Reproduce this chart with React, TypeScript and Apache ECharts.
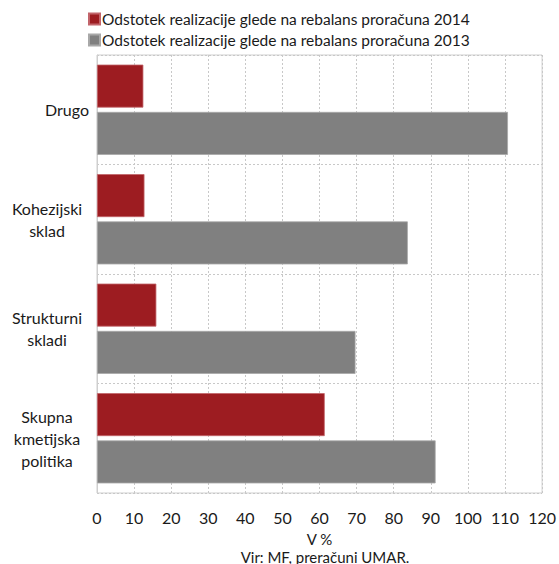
import React, { useEffect, useRef } from "react";
import * as echarts from "echarts";

const categories = ["Drugo", "Kohezijski\nsklad", "Strukturni\nskladi", "Skupna\nkmetijska\npolitika"];
const series2014 = [12.5, 12.8, 16.0, 61.4];
const series2013 = [110.8, 83.8, 69.7, 91.3];
const name2014 = "Odstotek realizacije glede na rebalans proračuna 2014";
const name2013 = "Odstotek realizacije glede na rebalans proračuna 2013";
const xAxisName = "V %";
const sourceText = "Vir: MF, preračuni UMAR.";

const FONT = "Lato";

export default function App() {
  const ref = useRef<HTMLDivElement>(null);
  useEffect(() => {
    if (!ref.current) return;
    const chart = echarts.init(ref.current, undefined, { renderer: "svg" });
    const labelStyle = { fontFamily: FONT, fontSize: 16, color: "#1a1a1a", lineHeight: 22, align: "center" };
    chart.setOption({
      animation: false,
      textStyle: { fontFamily: FONT },
      legend: {
        orient: "vertical",
        left: 83,
        top: 6,
        itemWidth: 11,
        itemHeight: 11,
        itemGap: 5,
        icon: "rect",
        textStyle: { fontFamily: FONT, fontSize: 15.5, color: "#1a1a1a", padding: [0, 0, 0, -3] },
        data: [name2014, name2013],
      },
      title: {
        text: sourceText,
        left: 320,
        textAlign: "center",
        top: 544,
        textStyle: { fontFamily: FONT, fontSize: 15, fontWeight: "normal", color: "#1a1a1a" },
      },
      grid: {
        left: 97,
        top: 55,
        width: 446,
        height: 438,
        show: true,
        borderColor: "#cfcfcf",
        borderWidth: 1,
      },
      xAxis: {
        type: "value",
        min: 0,
        max: 120,
        interval: 10,
        name: xAxisName,
        nameLocation: "middle",
        nameGap: 38,
        nameTextStyle: { fontFamily: FONT, fontSize: 15, color: "#1a1a1a" },
        axisLine: { show: false },
        axisTick: { show: false },
        axisLabel: { fontFamily: FONT, fontSize: 16, color: "#1a1a1a", margin: 16 },
        splitLine: { show: true, lineStyle: { color: "#c8c8c8", type: [2, 2], width: 1 } },
      },
      yAxis: {
        type: "category",
        inverse: true,
        data: categories,
        axisLine: { show: true, lineStyle: { color: "#cfcfcf" } },
        axisTick: { show: false },
        axisLabel: {
          fontFamily: FONT,
          fontSize: 16,
          color: "#1a1a1a",
          margin: 11,
          lineHeight: 22,
          align: "right",
          formatter: (value: string, idx: number) => {
            const widths = [38, 78, 78, 78];
            const key = "w" + (widths[idx] ?? 78);
            return value
              .split("\n")
              .map((line) => `{${key}|${line}}`)
              .join("\n");
          },
          rich: {
            w38: { ...labelStyle, width: 38 },
            w78: { ...labelStyle, width: 78 },
          },
        },
        splitLine: { show: true, lineStyle: { color: "#c8c8c8", type: [2, 2], width: 1 } },
      },
      series: [
        {
          name: name2014,
          type: "bar",
          data: series2014,
          barWidth: 43,
          barGap: "10%",
          itemStyle: { color: "#9d1c21", borderColor: "#c2646a", borderWidth: 0.8 },
        },
        {
          name: name2013,
          type: "bar",
          data: series2013,
          barWidth: 43,
          barGap: "10%",
          itemStyle: { color: "#808080", borderColor: "#a8a8a8", borderWidth: 0.8 },
        },
      ],
    });
    return () => chart.dispose();
  }, []);
  return <div ref={ref} style={{ position: "fixed", left: 0, top: 0, width: 559, height: 564, background: "#fff" }} />;
}
